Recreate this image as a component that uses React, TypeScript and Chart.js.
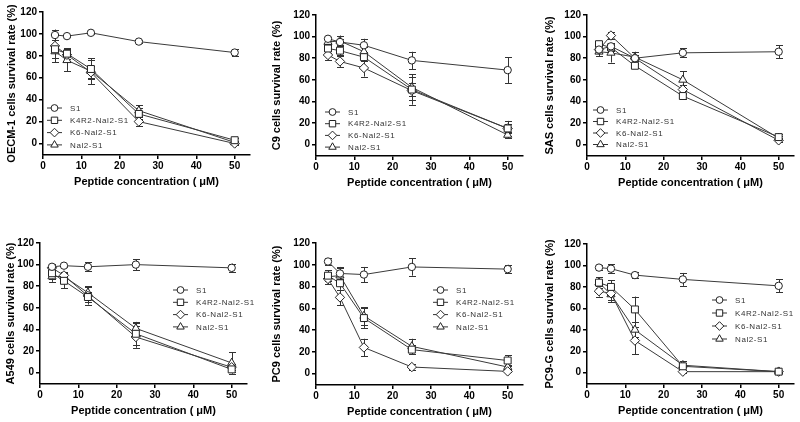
import React, { useEffect, useRef } from 'react';
import { Chart, registerables } from 'chart.js';
import { drawPoint } from 'chart.js/helpers';

Chart.register(...registerables);

const concentrations = [3.125, 6.25, 12.5, 25, 50];
const seriesNames = ['S1', 'K4R2-Nal2-S1', 'K6-Nal2-S1', 'Nal2-S1'];
const xTickValues = [0, 10, 20, 30, 40, 50];
const yTickValues = [0, 20, 40, 60, 80, 100, 120];
const xAxisTitle = 'Peptide concentration ( \u03bcM)';

// OECM-1
const oecm1S1 = [99, 98, 101, 93, 83];
const oecm1S1Err = [5, 1, 1, 1, 3];
const oecm1K4R2 = [86, 82, 68, 27, 3];
const oecm1K4R2Err = [8, 5, 8, 5, 2];
const oecm1K6 = [89, 81, 65, 20, 0];
const oecm1K6Err = [5, 4, 6, 4, 1];
const oecm1Nal2 = [84, 76, 66, 30, 1];
const oecm1Nal2Err = [10, 10, 12, 5, 1];

// C9
const c9S1 = [98, 95, 92, 78, 69];
const c9S1Err = [2, 3, 6, 8, 12];
const c9K4R2 = [89, 87, 81, 51, 15];
const c9K4R2Err = [4, 4, 4, 6, 7];
const c9K6 = [83, 77, 71, 50, 15];
const c9K6Err = [5, 5, 8, 13, 4];
const c9Nal2 = [95, 96, 86, 53, 9];
const c9Nal2Err = [3, 5, 4, 12, 3];

// SAS
const sasS1 = [88, 91, 80, 85, 86];
const sasS1Err = [3, 3, 3, 4, 6];
const sasK4R2 = [93, 90, 73, 45, 7];
const sasK4R2Err = [3, 3, 2, 3, 3];
const sasK6 = [88, 101, 80, 51, 4];
const sasK6Err = [3, 3, 3, 4, 2];
const sasNal2 = [86, 85, 81, 60, 6];
const sasNal2Err = [4, 9, 5, 8, 2];

// A549
const a549S1 = [98, 99, 98, 100, 97];
const a549S1Err = [3, 1, 4, 5, 4];
const a549K4R2 = [92, 85, 70, 36, 3];
const a549K4R2Err = [5, 7, 5, 10, 2];
const a549K6 = [97, 90, 71, 33, 5];
const a549K6Err = [3, 3, 8, 10, 3];
const a549Nal2 = [89, 89, 74, 41, 9];
const a549Nal2Err = [5, 3, 6, 6, 10];

// PC9
const pc9S1 = [103, 92, 91, 98, 96];
const pc9S1Err = [3, 5, 7, 8, 4];
const pc9K4R2 = [90, 83, 51, 22, 12];
const pc9K4R2Err = [5, 6, 9, 4, 5];
const pc9K6 = [87, 70, 24, 6, 2];
const pc9K6Err = [5, 7, 8, 3, 1];
const pc9Nal2 = [89, 90, 53, 25, 6];
const pc9Nal2Err = [4, 8, 8, 7, 2];

// PC9-G
const pc9gS1 = [98, 97, 91, 87, 81];
const pc9gS1Err = [2, 4, 3, 6, 6];
const pc9gK4R2 = [84, 80, 59, 6, 1];
const pc9gK4R2Err = [5, 6, 12, 3, 1];
const pc9gK6 = [76, 74, 30, 1, 1];
const pc9gK6Err = [5, 6, 13, 1, 1];
const pc9gNal2 = [84, 73, 40, 7, 1];
const pc9gNal2Err = [5, 7, 7, 4, 1];

const markerStyles = [
  { pointStyle: 'circle', radius: 3.7 },
  { pointStyle: 'rect', radius: 4.9 },
  { pointStyle: 'rectRot', radius: 4.7 },
  { pointStyle: 'triangle', radius: 4.7 },
];

const FONT = "'Liberation Sans', Arial, Helvetica, sans-serif";

type Panel = {
  yTitle: string;
  values: number[][];
  errors: number[][];
  left: number;
  top: number;
  width: number;
  height: number;
  yWidth: number;
  yTitleX: number;
  padTop: number;
  padRight: number;
  padBottom: number;
  legendX: number;
  legendY: number;
  legendGap: number;
};

const panels: Panel[] = [
  {
    yTitle: 'OECM-1 cells survival rate (%)',
    values: [oecm1S1, oecm1K4R2, oecm1K6, oecm1Nal2],
    errors: [oecm1S1Err, oecm1K4R2Err, oecm1K6Err, oecm1Nal2Err],
    left: 0, top: 0, width: 265, height: 211,
    yWidth: 43, yTitleX: 12, padTop: 12, padRight: 15, padBottom: 20,
    legendX: 4, legendY: 96, legendGap: 12.3,
  },
  {
    yTitle: 'C9 cells survival rate (%)',
    values: [c9S1, c9K4R2, c9K6, c9Nal2],
    errors: [c9S1Err, c9K4R2Err, c9K6Err, c9Nal2Err],
    left: 265, top: 0, width: 265, height: 211,
    yWidth: 51, yTitleX: 12, padTop: 15, padRight: 7, padBottom: 19,
    legendX: 9, legendY: 97, legendGap: 11.7,
  },
  {
    yTitle: 'SAS cells survival rate (%)',
    values: [sasS1, sasK4R2, sasK6, sasNal2],
    errors: [sasS1Err, sasK4R2Err, sasK6Err, sasNal2Err],
    left: 530, top: 0, width: 270, height: 211,
    yWidth: 57, yTitleX: 20, padTop: 15, padRight: 6, padBottom: 19,
    legendX: 6, legendY: 95, legendGap: 11.5,
  },
  {
    yTitle: 'A549 cells survival rate (%)',
    values: [a549S1, a549K4R2, a549K6, a549Nal2],
    errors: [a549S1Err, a549K4R2Err, a549K6Err, a549Nal2Err],
    left: 0, top: 211, width: 265, height: 211,
    yWidth: 40, yTitleX: 11, padTop: 32, padRight: 18, padBottom: 2,
    legendX: 133, legendY: 47, legendGap: 12.3,
  },
  {
    yTitle: 'PC9 cells survival rate (%)',
    values: [pc9S1, pc9K4R2, pc9K6, pc9Nal2],
    errors: [pc9S1Err, pc9K4R2Err, pc9K6Err, pc9Nal2Err],
    left: 265, top: 211, width: 265, height: 211,
    yWidth: 51, yTitleX: 12, padTop: 32, padRight: 7, padBottom: 1,
    legendX: 117, legendY: 47, legendGap: 12.3,
  },
  {
    yTitle: 'PC9-G cells survival rate (%)',
    values: [pc9gS1, pc9gK4R2, pc9gK6, pc9gNal2],
    errors: [pc9gS1Err, pc9gK4R2Err, pc9gK6Err, pc9gNal2Err],
    left: 530, top: 211, width: 270, height: 211,
    yWidth: 57, yTitleX: 20, padTop: 33, padRight: 6, padBottom: 2,
    legendX: 125, legendY: 56, legendGap: 13,
  },
];

const errorBarPlugin = {
  id: 'errorBars',
  beforeDatasetsDraw(chart: any) {
    const ctx = chart.ctx;
    const yScale = chart.scales.y;
    const errs = chart.options.plugins.errorBars.errors as number[][];
    ctx.save();
    ctx.strokeStyle = '#333';
    ctx.lineWidth = 1;
    chart.data.datasets.forEach((ds: any, i: number) => {
      const meta = chart.getDatasetMeta(i);
      meta.data.forEach((pt: any, j: number) => {
        const v = ds.data[j].y;
        const e = errs[i][j];
        if (!e) return;
        const x = Math.round(pt.x) + 0.5;
        const y1 = yScale.getPixelForValue(v + e);
        const y2 = yScale.getPixelForValue(v - e);
        ctx.beginPath();
        ctx.moveTo(x, y1);
        ctx.lineTo(x, y2);
        ctx.moveTo(x - 3.5, Math.round(y1) + 0.5);
        ctx.lineTo(x + 3.5, Math.round(y1) + 0.5);
        ctx.moveTo(x - 3.5, Math.round(y2) + 0.5);
        ctx.lineTo(x + 3.5, Math.round(y2) + 0.5);
        ctx.stroke();
      });
    });
    ctx.restore();
  },
};

const innerLegendPlugin = {
  id: 'innerLegend',
  afterDatasetsDraw(chart: any) {
    const opts = chart.options.plugins.innerLegend;
    const ctx = chart.ctx;
    const area = chart.chartArea;
    ctx.save();
    chart.data.datasets.forEach((ds: any, i: number) => {
      const x0 = area.left + opts.x;
      const y = area.top + opts.y + i * opts.gap;
      ctx.strokeStyle = '#333';
      ctx.lineWidth = 1;
      ctx.beginPath();
      ctx.moveTo(x0, y);
      ctx.lineTo(x0 + 15, y);
      ctx.stroke();
      ctx.fillStyle = '#fff';
      ctx.strokeStyle = '#222';
      drawPoint(ctx, { pointStyle: ds.pointStyle, rotation: 0, radius: ds.pointRadius * 0.92, borderWidth: 1 } as any, x0 + 7.5, y);
      ctx.fillStyle = '#333';
      ctx.font = `8px ${FONT}`;
      (ctx as any).letterSpacing = '0.6px';
      ctx.textBaseline = 'middle';
      ctx.textAlign = 'left';
      ctx.fillText(ds.label, x0 + 23, y + 0.5);
    });
    ctx.restore();
  },
};

function PanelChart({ panel }: { panel: Panel }) {
  const ref = useRef<HTMLCanvasElement | null>(null);
  useEffect(() => {
    if (!ref.current) return;
    const datasets = panel.values.map((vals, i) => ({
      label: seriesNames[i],
      data: concentrations.map((c, j) => ({ x: c, y: vals[j] })),
      borderColor: '#3a3a3a',
      borderWidth: 1,
      pointStyle: markerStyles[i].pointStyle,
      pointRadius: markerStyles[i].radius,
      pointBorderColor: '#222',
      pointBackgroundColor: '#fff',
      pointBorderWidth: 1,
      tension: 0,
      fill: false,
      clip: false,
    }));
    const tickFont = { family: FONT, size: 10, weight: 'bold' as const };
    const titleFont = { family: FONT, size: 11, weight: 'bold' as const };
    const chart = new Chart(ref.current, {
      type: 'line',
      data: { datasets },
      plugins: [errorBarPlugin, innerLegendPlugin],
      options: {
        animation: false,
        responsive: false,
        maintainAspectRatio: false,
        events: [],
        layout: {
          padding: { left: 0, top: panel.padTop, right: panel.padRight, bottom: panel.padBottom },
        },
        plugins: {
          legend: { display: false },
          tooltip: { enabled: false },
          errorBars: { errors: panel.errors },
          innerLegend: { x: panel.legendX, y: panel.legendY, gap: panel.legendGap },
        } as any,
        scales: {
          x: {
            type: 'linear',
            min: 0,
            max: 54,
            afterBuildTicks: (s: any) => {
              s.ticks = xTickValues.map((v) => ({ value: v }));
            },
            afterFit: (s: any) => {
              s.height = 36;
            },
            grid: { display: true, drawOnChartArea: false, drawTicks: true, tickLength: 4, color: '#000', lineWidth: 1.5 },
            border: { display: true, color: '#000', width: 1.5 },
            ticks: { color: '#000', font: tickFont, padding: 1, maxRotation: 0 },
            title: { display: true, text: xAxisTitle, color: '#000', font: titleFont, padding: { top: 0, bottom: 2 } },
          },
          y: {
            type: 'linear',
            min: -10.5,
            max: 120,
            afterBuildTicks: (s: any) => {
              s.ticks = yTickValues.map((v) => ({ value: v }));
            },
            afterFit: (s: any) => {
              s.width = panel.yWidth;
            },
            grid: { display: true, drawOnChartArea: false, drawTicks: true, tickLength: 4, color: '#000', lineWidth: 1.5 },
            border: { display: true, color: '#000', width: 1.5 },
            ticks: { color: '#000', font: tickFont, padding: 2 },
            title: {
              display: true,
              text: panel.yTitle,
              color: '#000',
              font: titleFont,
              padding: { top: panel.yTitleX - 6.6, bottom: 0 },
            },
          },
        },
      } as any,
    });
    return () => chart.destroy();
  }, [panel]);
  return (
    <canvas
      ref={ref}
      width={panel.width}
      height={panel.height}
      style={{ position: 'absolute', left: panel.left, top: panel.top, width: panel.width, height: panel.height, display: 'block' }}
    />
  );
}

export default function App() {
  return (
    <div style={{ position: 'absolute', left: 0, top: 0, width: 800, height: 422, background: '#fff', overflow: 'hidden' }}>
      {panels.map((p, i) => (
        <PanelChart key={i} panel={p} />
      ))}
    </div>
  );
}
